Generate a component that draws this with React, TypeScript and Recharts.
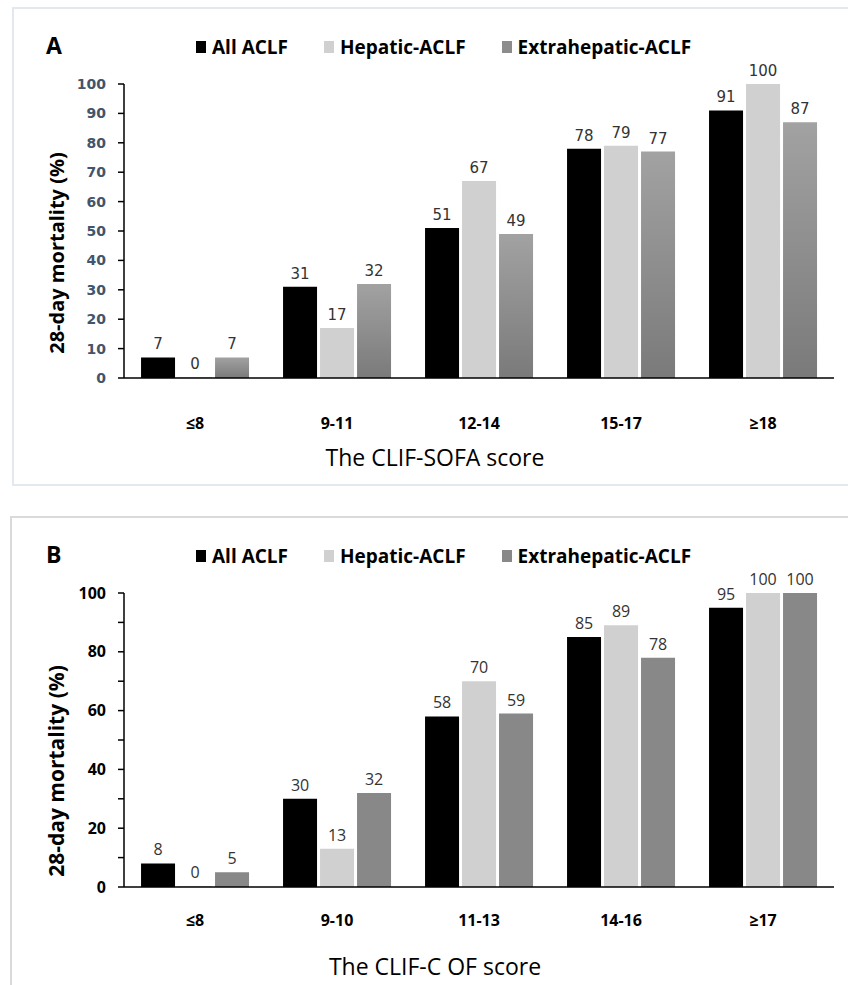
import React from 'react';
import { BarChart, Bar, XAxis, YAxis, LabelList } from 'recharts';

// panel A: CLIF-SOFA
const CATS_A = ['≤8', '9-11', '12-14', '15-17', '≥18'];
const ALL_A = [7, 31, 51, 78, 91];
const HEP_A = [0, 17, 67, 79, 100];
const EXT_A = [7, 32, 49, 77, 87];

// panel B: CLIF-C OF
const CATS_B = ['≤8', '9-10', '11-13', '14-16', '≥17'];
const ALL_B = [8, 30, 58, 85, 95];
const HEP_B = [0, 13, 70, 89, 100];
const EXT_B = [5, 32, 59, 78, 100];

const Y_TICKS = [0, 10, 20, 30, 40, 50, 60, 70, 80, 90, 100];
const EDGE_TICKS = [0, 1, 2, 3, 4, 5];
const SERIES = ['All ACLF', 'Hepatic-ACLF', 'Extrahepatic-ACLF'];

const toRows = (cats: string[], a: number[], h: number[], e: number[]) =>
  cats.map((c, i) => ({ cat: c, all: a[i], hep: h[i], ext: e[i] }));

const W = 848;
const H = 490;

type PanelProps = {
  letter: string;
  rows: { cat: string; all: number; hep: number; ext: number }[];
  xTitle: string;
  xTickMargin: number;
  yTickColor: string;
  yTickFont: { fontFamily: string; fontSize: number };
  yTitleSize: number;
  yTitleDy: number;
  labelFont: { fontFamily: string; fontSize: number };
  extFill: string;
  legendColors: string[];
  yTickFormat?: (v: number) => string;
};

const Panel: React.FC<PanelProps> = (p) => {
  const colors = ['#000000', '#d0d0d0', p.extFill];
  return (
    <div style={{ position: 'relative', width: W, height: H }}>
      <div style={{ position: 'absolute', left: 46, top: 29, fontFamily: 'Open Sans', fontWeight: 700, fontSize: 23 }}>
        {p.letter}
      </div>
      <div style={{ position: 'absolute', left: 196, top: 34, display: 'flex', alignItems: 'center', fontFamily: 'Open Sans', fontWeight: 700, fontSize: 19 }}>
        {SERIES.map((s, i) => (
          <div key={s} style={{ display: 'flex', alignItems: 'center', marginRight: 36 }}>
            <span style={{ width: 10, height: 12, background: p.legendColors[i], marginRight: 6, display: 'inline-block' }} />
            <span>{s}</span>
          </div>
        ))}
      </div>
      <BarChart
        width={W}
        height={H}
        data={p.rows}
        margin={{ top: 84, right: 14, left: 0, bottom: 0 }}
        barCategoryGap="12%"
        barGap={3}
      >
        <defs>
          <linearGradient id="extGrad" x1="0" y1="0" x2="0" y2="1">
            <stop offset="0%" stopColor="#a2a2a2" />
            <stop offset="100%" stopColor="#7a7a7a" />
          </linearGradient>
        </defs>
        <XAxis
          xAxisId="edges"
          type="number"
          domain={[0, 5]}
          ticks={EDGE_TICKS}
          height={0}
          axisLine={false}
          tickLine={{ stroke: '#000', strokeWidth: 1.5 }}
          tickSize={7}
          tickFormatter={() => ''}
        />
        <XAxis
          dataKey="cat"
          height={112}
          axisLine={{ stroke: '#000', strokeWidth: 1.5 }}
          tickLine={false}
          tickSize={0}
          tickMargin={p.xTickMargin}
          tick={{ fill: '#000', fontFamily: 'Open Sans', fontWeight: 700, fontSize: 16 }}
          label={{ value: p.xTitle, position: 'insideBottom', offset: 24, dx: -44, fill: '#000', fontFamily: 'Open Sans', fontSize: 23 }}
        />
        <YAxis
          width={124}
          domain={[0, 100]}
          ticks={Y_TICKS}
          interval={0}
          axisLine={{ stroke: '#000', strokeWidth: 1.5 }}
          tickLine={{ stroke: '#000', strokeWidth: 1.5 }}
          tickSize={6}
          tickMargin={12}
          tickFormatter={p.yTickFormat}
          tick={{ fill: p.yTickColor, fontWeight: 700, ...p.yTickFont }}
          label={{ value: '28-day mortality (%)', angle: -90, position: 'center', dx: -5, dy: p.yTitleDy, fill: '#000', fontFamily: 'Open Sans', fontWeight: 700, fontSize: p.yTitleSize }}
        />
        {(['all', 'hep', 'ext'] as const).map((k, i) => (
          <Bar key={k} dataKey={k} fill={colors[i]} minPointSize={1} isAnimationActive={false}>
            <LabelList dataKey={k} position="top" offset={8} fill="#333" {...p.labelFont} />
          </Bar>
        ))}
      </BarChart>
    </div>
  );
};

export default function App() {
  return (
    <div style={{ position: 'absolute', left: 0, top: 0, width: W, height: 985, overflow: 'hidden', background: '#fff' }}>
      <div style={{ position: 'absolute', left: 12, top: 7, width: 850, height: 475, border: '2px solid #e3e8ee' }} />
      <div style={{ position: 'absolute', left: 10, top: 516, width: 850, height: 480, border: '2px solid #dadada' }} />
      <div style={{ position: 'absolute', left: 0, top: 0 }}>
        <Panel
          letter="A"
          rows={toRows(CATS_A, ALL_A, HEP_A, EXT_A)}
          xTitle="The CLIF-SOFA score"
          xTickMargin={40}
          yTickColor="#44546a"
          yTickFont={{ fontFamily: 'DejaVu Sans', fontSize: 14 }}
          yTitleSize={20}
          yTitleDy={22}
          labelFont={{ fontFamily: 'DejaVu Sans', fontSize: 15 }}
          extFill="url(#extGrad)"
          legendColors={['#000', '#d0d0d0', '#8c8c8c']}
        />
      </div>
      <div style={{ position: 'absolute', left: 0, top: 509 }}>
        <Panel
          letter="B"
          rows={toRows(CATS_B, ALL_B, HEP_B, EXT_B)}
          xTitle="The CLIF-C OF score"
          xTickMargin={28}
          yTickColor="#000"
          yTickFont={{ fontFamily: 'Open Sans', fontSize: 16 }}
          yTitleSize={21}
          yTitleDy={31}
          labelFont={{ fontFamily: 'Open Sans', fontSize: 16 }}
          extFill="#888888"
          legendColors={['#000', '#d0d0d0', '#888']}
          yTickFormat={(v: number) => (v % 20 === 0 ? String(v) : '')}
        />
      </div>
    </div>
  );
}
